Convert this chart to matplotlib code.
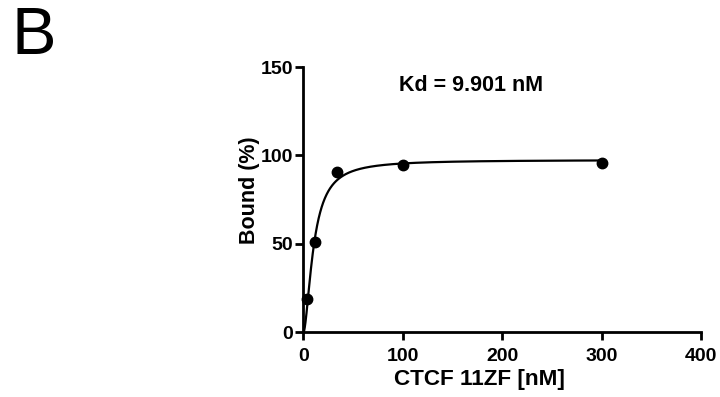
import numpy as np
import matplotlib
matplotlib.use("Agg")
import matplotlib.pyplot as plt

plt.rcParams['font.family'] = ['Liberation Sans', 'DejaVu Sans']

# Data
conc_nM = [3.7, 11.1, 33.3, 100.0, 300.0]
bound_pct = [18.7, 51.0, 90.6, 94.9, 95.9]

# Fit parameters (Hill-type binding curve, drawn as in the reference)
fit_Bmax = 97.5
fit_K = 10.3
fit_h = 1.7
kd_label = "Kd = 9.901 nM"

x_ticks = [0, 100, 200, 300, 400]
y_ticks = [0, 50, 100, 150]

fig = plt.figure(figsize=(7.2, 3.97), dpi=100)
ax = fig.add_axes([0.4215, 0.163, 0.5525, 0.668])

xf = np.linspace(0, 300, 1200)
yf = fit_Bmax * xf**fit_h / (fit_K**fit_h + xf**fit_h)
ax.plot(xf, yf, color='black', lw=1.6, zorder=2)
ax.plot(conc_nM, bound_pct, 'o', color='black', ms=7.5, zorder=3, clip_on=False)

ax.set_xlim(0, 400)
ax.set_ylim(0, 150)
ax.set_xticks(x_ticks)
ax.set_yticks(y_ticks)
for s in ['top', 'right']:
    ax.spines[s].set_visible(False)
for s in ['left', 'bottom']:
    ax.spines[s].set_linewidth(2)
ax.tick_params(direction='out', length=5.5, width=2, labelsize=14, pad=2)
ax.tick_params(axis='x', pad=5.5)
for lab in ax.get_xticklabels() + ax.get_yticklabels():
    lab.set_fontweight('bold')

ax.set_xlabel("CTCF 11ZF [nM]", fontsize=16.2, fontweight='bold')
ax.set_ylabel("Bound (%)", fontsize=15.5, fontweight='bold')
ax.xaxis.set_label_coords(0.442, -0.138)
ax.yaxis.set_label_coords(-0.11, 0.534)
ax.text(168.7, 139.8, kd_label, ha='center', va='center', fontsize=15.5, fontweight='bold')

fig.text(0.016, 0.985, "B", fontsize=48, ha='left', va='top')

fig.savefig("out.png", dpi=100)
